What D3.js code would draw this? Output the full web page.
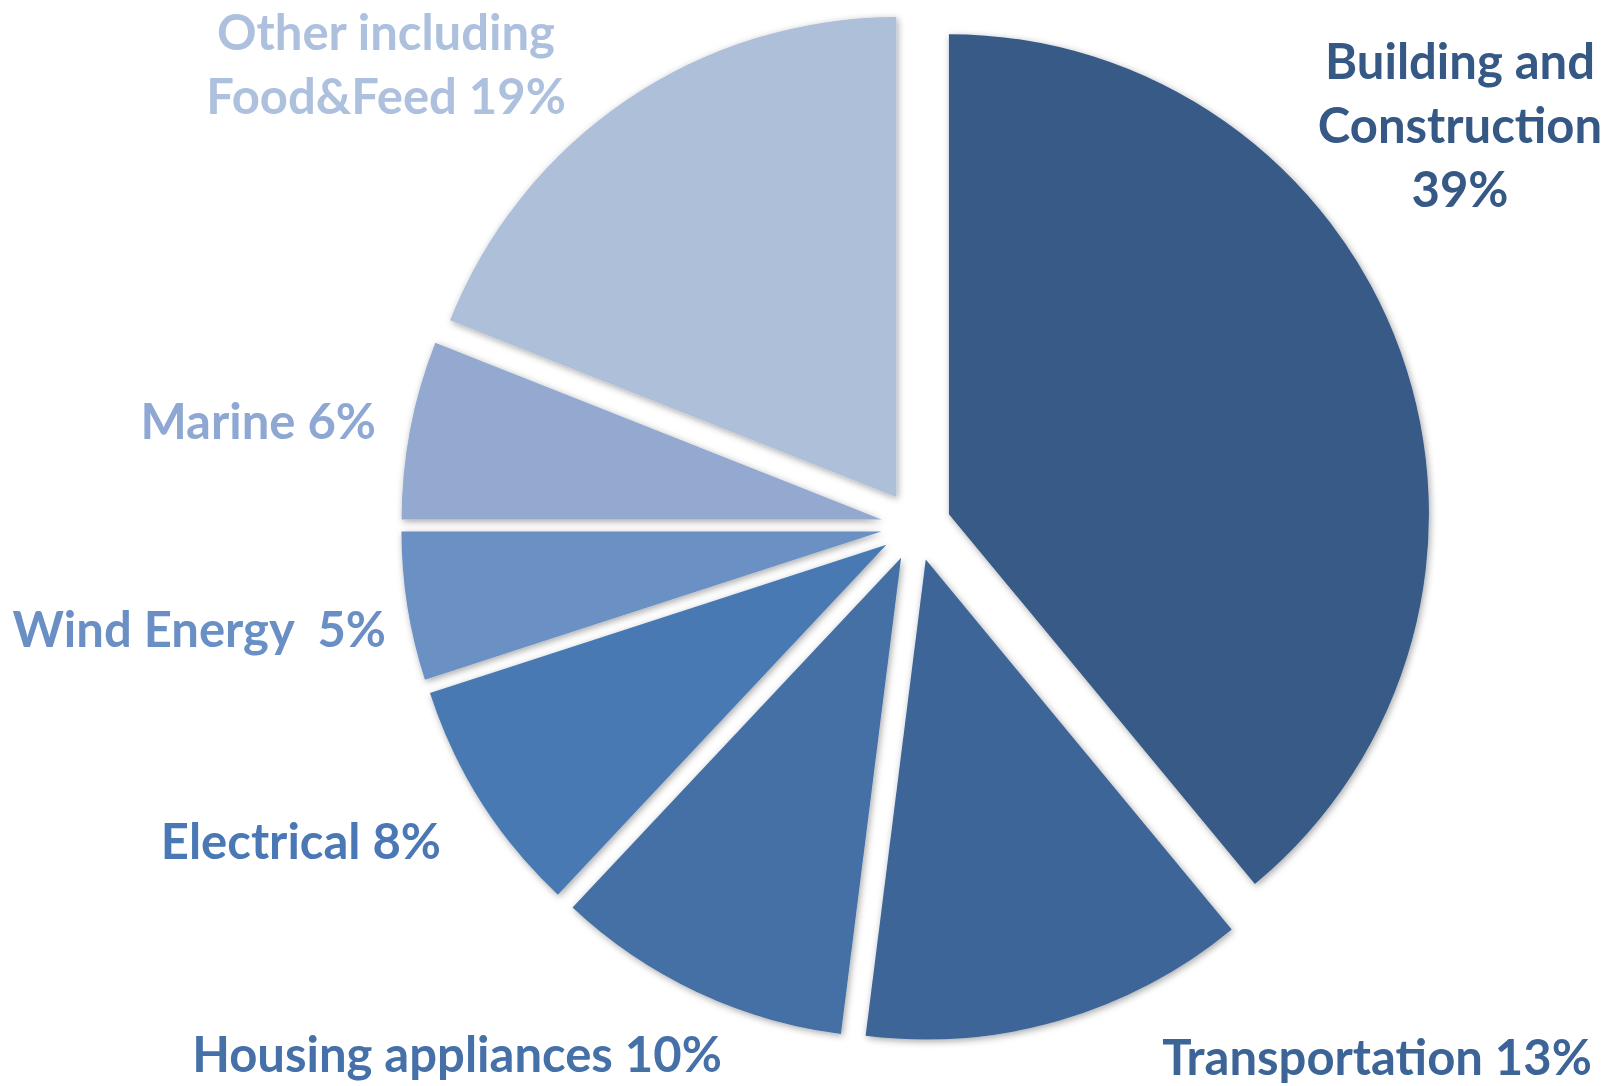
<!DOCTYPE html>
<html>
<head>
<meta charset="utf-8">
<script src="https://cdn.jsdelivr.net/npm/d3@7"></script>
<style>
  html, body { margin: 0; padding: 0; background: #fff; }
  svg text { font-family: Lato, "Open Sans", sans-serif; font-weight: 700; white-space: pre; }
</style>
</head>
<body>
<svg id="chart"></svg>
<script>
// segments, clockwise from 12 o'clock
const categories = ['Building and Construction', 'Transportation', 'Housing appliances',
  'Electrical', 'Wind Energy', 'Marine', 'Other including Food&Feed'];
const values = [39, 13, 10, 8, 5, 6, 19];
const colors = ['#375a87', '#3e6597', '#4470a6', '#4a79b3', '#6b90c4', '#93a9d0', '#adbfd9'];
const labelColors = ['#355884', '#3c6496', '#4570a8', '#4a78b4', '#6a8fc5', '#8ea8d3', '#adc0dd'];
const labelLines = [
  ['Building and', 'Construction', '39%'],
  ['Transportation 13%'],
  ['Housing appliances 10%'],
  ['Electrical 8%'],
  ['Wind Energy  5%'],
  ['Marine 6%'],
  ['Other including', 'Food&Feed 19%']
];

// label placement (anchor x, first line centre y, text-anchor)
const labelLayout = [
  { x: 1460, y: 62, anchor: 'middle' },
  { x: 1377, y: 1058, anchor: 'middle' },
  { x: 457, y: 1055, anchor: 'middle' },
  { x: 441, y: 842, anchor: 'end' },
  { x: 386, y: 630, anchor: 'end' },
  { x: 376, y: 422, anchor: 'end' },
  { x: 386, y: 33, anchor: 'middle' }
];

const width = 1614, height = 1086;
const cx = 916, cy = 526;
const radius = 480;
const explode = 35;
const fontSize = 49;
const lineGap = 64;

const svg = d3.select('#chart')
  .attr('width', width)
  .attr('height', height)
  .attr('viewBox', `0 0 ${width} ${height}`);

const defs = svg.append('defs');
defs.append('filter')
  .attr('id', 'shadow')
  .attr('x', '-10%').attr('y', '-10%')
  .attr('width', '120%').attr('height', '120%')
  .append('feDropShadow')
  .attr('dx', 1.5).attr('dy', 2)
  .attr('stdDeviation', 3.5)
  .attr('flood-color', '#000')
  .attr('flood-opacity', 0.35);

const pie = d3.pie().sort(null).value(d => d);
const arcs = pie(values);
const arc = d3.arc().innerRadius(0).outerRadius(radius);

const g = svg.append('g').attr('transform', `translate(${cx}, ${cy})`);

g.selectAll('path.slice')
  .data(arcs)
  .join('path')
  .attr('class', 'slice')
  .attr('d', arc)
  .attr('fill', (d, i) => colors[i])
  .attr('filter', 'url(#shadow)')
  .attr('transform', d => {
    const mid = (d.startAngle + d.endAngle) / 2;
    return `translate(${Math.sin(mid) * explode}, ${-Math.cos(mid) * explode})`;
  });

// Labels
categories.forEach((c, i) => {
  const pos = labelLayout[i];
  const t = svg.append('text')
    .attr('text-anchor', pos.anchor)
    .attr('font-size', fontSize + 'px')
    .attr('fill', labelColors[i]);
  labelLines[i].forEach((line, j) => {
    t.append('tspan')
      .attr('x', pos.x)
      .attr('y', pos.y + j * lineGap)
      .attr('dy', '0.35em')
      .text(line);
  });
});
</script>
</body>
</html>
